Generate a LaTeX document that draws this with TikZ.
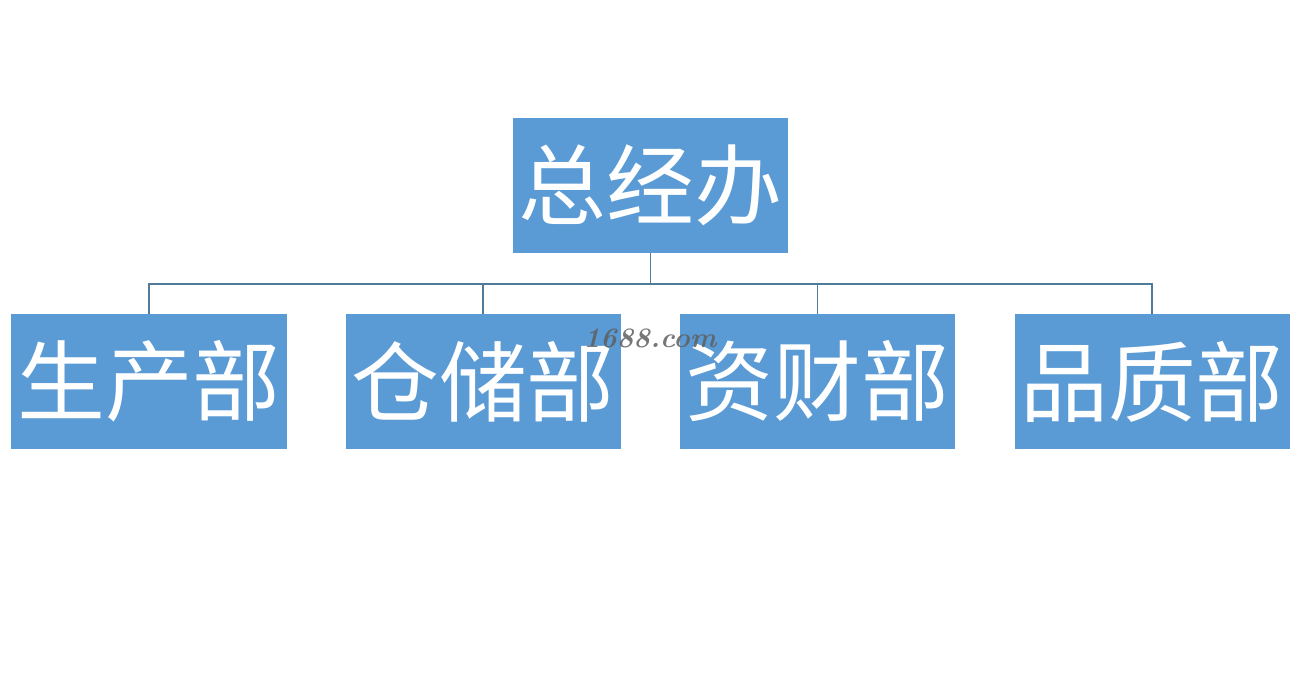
\documentclass[tikz,border=0pt]{standalone}
\usepackage{fontspec}
\newfontfamily\cjk{Noto Sans CJK SC}
\definecolor{boxfill}{HTML}{5B9BD5}
\definecolor{linkline}{HTML}{4F7A9A}
\definecolor{markgray}{HTML}{5E5E5E}
\tikzset{
  unit/.style={rectangle, fill=boxfill, draw=none, text=white, minimum width=5.5cm, minimum height=2.7cm, inner sep=0pt, font=\cjk\fontsize{50}{54}\selectfont},
  head/.style={unit},
  dept/.style={unit},
  link/.style={draw=linkline, line width=1.1pt},
  watermark/.style={font=\bfseries\itshape\fontsize{16}{18}\selectfont, text=markgray, opacity=0.85}
}
\begin{document}
\begin{tikzpicture}
\useasboundingbox (0,0) rectangle (25.92,13.5);

\node[head] (gm) at (13.01,9.79) {总经办};

% Departments.
\node[dept] (prod) at (2.98,5.87) {生产部};
\node[dept] (store) at (9.66,5.87) {仓储部};
\node[dept] (fin) at (16.35,5.87) {资财部};
\node[dept] (qc) at (23.04,5.87) {品质部};

% Tree connectors.
\coordinate (bus) at (13.01,7.82);
\draw[link] (gm.south) -- (bus);
\foreach \d in {prod,store,fin,qc} {
  \draw[link] (bus) -| (\d.north);
}

\node[watermark] (wm) at (13.0,6.74) {1688.com};

\end{tikzpicture}
\end{document}
